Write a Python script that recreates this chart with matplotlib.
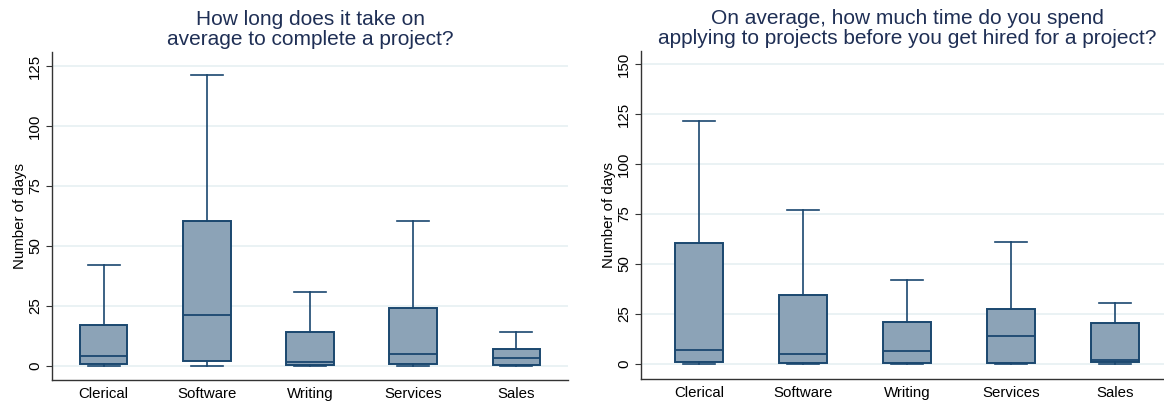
import matplotlib.pyplot as plt

plt.rcParams['font.family'] = ['Liberation Sans', 'DejaVu Sans']

categories = ["Clerical", "Software", "Writing", "Services", "Sales"]

# days to complete a project
complete_low = [0, 0, 0, 0, 0]
complete_q1 = [0.5, 2, 0.4, 0.5, 0.3]
complete_med = [4, 21, 1.4, 5, 3]
complete_q3 = [17, 60.5, 14, 24, 7]
complete_high = [42, 121.5, 30.5, 60.5, 14]

# days spent applying before getting hired
apply_low = [0, 0, 0, 0, 0]
apply_q1 = [1.2, 0.3, 0.5, 0.7, 1.2]
apply_med = [7, 5, 6.5, 14, 1.8]
apply_q3 = [60.5, 34.5, 20.8, 27.7, 20.5]
apply_high = [121.5, 77, 42, 61, 30.5]

box_fill = "#8ca3b7"
box_edge = "#1a476f"
title_color = "#1f2f55"
grid_color = "#e6f0f2"


def make_stats(low, q1, med, q3, high):
    return [dict(label=c, whislo=a, q1=b, med=m, q3=d, whishi=e, fliers=[])
            for c, a, b, m, d, e in zip(categories, low, q1, med, q3, high)]


def draw_panel(ax, stats, yticks, ylim, xlim, title):
    ax.bxp(stats, positions=range(1, len(stats) + 1), widths=0.46,
           patch_artist=True, showfliers=False,
           boxprops=dict(facecolor=box_fill, edgecolor=box_edge, linewidth=1.4),
           medianprops=dict(color=box_edge, linewidth=1.3),
           whiskerprops=dict(color=box_edge, linewidth=1.2),
           capprops=dict(color=box_edge, linewidth=1.2),
           capwidths=0.31, zorder=3)
    ax.set_xlim(*xlim)
    ax.set_ylim(*ylim)
    ax.set_yticks(yticks)
    ax.set_yticklabels([str(t) for t in yticks], rotation=90, va="center")
    ax.yaxis.grid(True, color=grid_color, linewidth=1.2, zorder=0)
    ax.set_axisbelow(True)
    for s in ("top", "right"):
        ax.spines[s].set_visible(False)
    for s in ("left", "bottom"):
        ax.spines[s].set_color("#333333")
        ax.spines[s].set_linewidth(1.0)
    ax.tick_params(axis="y", length=4, color="#333333", labelsize=10.8, pad=3)
    ax.tick_params(axis="x", length=0, labelsize=10.8, pad=5)
    ax.set_ylabel("Number of days", fontsize=10.8, labelpad=1)
    ax.set_title(title, fontsize=15, color=title_color, linespacing=1.05, pad=5)


fig = plt.figure(figsize=(11.64, 4.05), dpi=100)
ax1 = fig.add_axes([0.0447, 0.062, 0.4433, 0.81])
ax2 = fig.add_axes([0.5507, 0.064, 0.457, 0.81])

draw_panel(ax1, make_stats(complete_low, complete_q1, complete_med, complete_q3, complete_high),
           [0, 25, 50, 75, 100, 125], (-6, 131), (0.5, 5.5),
           "How long does it take on\naverage to complete a project?")
draw_panel(ax2, make_stats(apply_low, apply_q1, apply_med, apply_q3, apply_high),
           [0, 25, 50, 75, 100, 125, 150], (-7.5, 156.5), (0.44, 5.56),
           "On average, how much time do you spend\napplying to projects before you get hired for a project?")

fig.savefig("out.png", dpi=100)
